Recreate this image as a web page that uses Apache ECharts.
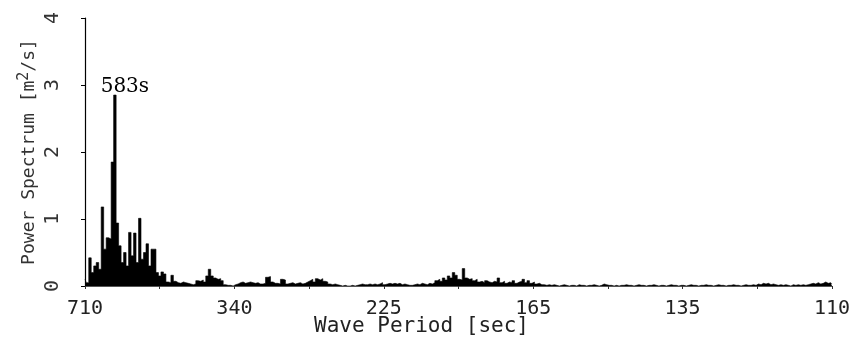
<!DOCTYPE html>
<html>
<head>
<meta charset="utf-8">
<script src="https://cdn.jsdelivr.net/npm/echarts@6/dist/echarts.min.js"></script>
<style>
  html, body { margin: 0; padding: 0; background: #fff; }
  #chart { width: 850px; height: 339px; }
</style>
</head>
<body>
<div id="chart"></div>
<script>
// period labels shown under the (linear frequency) axis, one every 60 bins
const periodLabels = ['710', '340', '225', '165', '135', '110'];
const yTicks = [0, 1, 2, 3, 4];
const peakBin = 12;
const peakLabel = '583s';

// power spectrum [m2/s], one value per frequency bin (301 bins, 710s -> 110s)
const spectrum = [
  0.10, 0.05, 0.42, 0.20, 0.30, 0.35, 0.25, 1.18, 0.55, 0.72,
  0.70, 1.85, 2.85, 0.94, 0.60, 0.35, 0.50, 0.30, 0.80, 0.45,
  0.79, 0.35, 1.01, 0.40, 0.50, 0.63, 0.30, 0.55, 0.55, 0.20,
  0.15, 0.21, 0.18, 0.06, 0.05, 0.16, 0.07, 0.05, 0.04, 0.06,
  0.05, 0.04, 0.03, 0.02, 0.03, 0.08, 0.07, 0.09, 0.06, 0.15,
  0.25, 0.15, 0.12, 0.10, 0.11, 0.08, 0.02, 0.01, 0.01, 0.00,
  0.02, 0.03, 0.05, 0.06, 0.04, 0.05, 0.06, 0.05, 0.04, 0.05,
  0.03, 0.03, 0.04, 0.13, 0.14, 0.06, 0.04, 0.04, 0.03, 0.10,
  0.09, 0.03, 0.04, 0.05, 0.03, 0.04, 0.05, 0.03, 0.04, 0.06,
  0.08, 0.10, 0.06, 0.11, 0.09, 0.11, 0.07, 0.06, 0.03, 0.02,
  0.03, 0.02, 0.01, 0.00, 0.01, 0.00, 0.00, 0.01, 0.00, 0.01,
  0.02, 0.03, 0.02, 0.02, 0.03, 0.02, 0.03, 0.02, 0.03, 0.05,
  0.02, 0.03, 0.04, 0.03, 0.04, 0.03, 0.04, 0.02, 0.03, 0.02,
  0.01, 0.01, 0.02, 0.03, 0.02, 0.04, 0.03, 0.02, 0.04, 0.03,
  0.05, 0.08, 0.10, 0.07, 0.12, 0.09, 0.15, 0.12, 0.20, 0.16,
  0.10, 0.09, 0.26, 0.12, 0.10, 0.11, 0.08, 0.10, 0.06, 0.07,
  0.05, 0.08, 0.06, 0.05, 0.07, 0.06, 0.12, 0.05, 0.07, 0.04,
  0.06, 0.05, 0.08, 0.04, 0.06, 0.07, 0.10, 0.05, 0.08, 0.04,
  0.06, 0.03, 0.04, 0.02, 0.02, 0.01, 0.02, 0.01, 0.02, 0.01,
  0.00, 0.01, 0.02, 0.01, 0.00, 0.01, 0.01, 0.00, 0.02, 0.01,
  0.01, 0.00, 0.01, 0.01, 0.02, 0.01, 0.00, 0.01, 0.03, 0.02,
  0.01, 0.01, 0.00, 0.01, 0.00, 0.01, 0.01, 0.02, 0.01, 0.01,
  0.00, 0.01, 0.02, 0.01, 0.01, 0.00, 0.01, 0.01, 0.02, 0.01,
  0.00, 0.01, 0.01, 0.00, 0.01, 0.02, 0.01, 0.01, 0.00, 0.01,
  0.01, 0.00, 0.01, 0.02, 0.01, 0.01, 0.00, 0.01, 0.01, 0.02,
  0.01, 0.01, 0.00, 0.01, 0.02, 0.01, 0.01, 0.00, 0.01, 0.01,
  0.02, 0.01, 0.01, 0.00, 0.01, 0.02, 0.01, 0.01, 0.02, 0.01,
  0.03, 0.02, 0.04, 0.03, 0.04, 0.02, 0.03, 0.02, 0.01, 0.02,
  0.01, 0.02, 0.01, 0.00, 0.02, 0.01, 0.02, 0.01, 0.02, 0.01,
  0.02, 0.03, 0.04, 0.03, 0.05, 0.03, 0.04, 0.06, 0.04, 0.05,
  0.03
];

const labelStep = (spectrum.length - 1) / (periodLabels.length - 1); // 60
const fontMono = '"DejaVu Sans Mono", monospace';

const chart = echarts.init(document.getElementById('chart'));

const option = {
  backgroundColor: '#fff',
  animation: false,
  grid: { left: 85, right: 18, top: 18, bottom: 53, outerBoundsMode: 'none' },
  xAxis: {
    type: 'value',
    min: 0,
    max: spectrum.length - 1,
    interval: labelStep / 2,
    name: 'Wave Period [sec]',
    nameLocation: 'middle',
    nameGap: 30,
    nameMoveOverlap: false,
    nameTextStyle: {
      color: '#222', fontFamily: fontMono, fontSize: 21,
      padding: [0, 74, 0, 0]
    },
    axisLine: { lineStyle: { color: '#555', width: 1 } },
    axisTick: { show: true, length: 3, lineStyle: { color: '#333' } },
    splitLine: { show: false },
    axisLabel: {
      color: '#222', fontFamily: fontMono, fontSize: 20, margin: 13,
      formatter: v => (v % labelStep === 0 ? periodLabels[v / labelStep] : '')
    }
  },
  yAxis: {
    type: 'value',
    min: yTicks[0],
    max: yTicks[yTicks.length - 1],
    interval: 1,
    name: 'Power Spectrum [m{sup|2}/s]',
    nameLocation: 'middle',
    nameGap: 44,
    nameMoveOverlap: false,
    nameTextStyle: {
      color: '#333', fontFamily: fontMono, fontSize: 18,
      rich: { sup: { fontFamily: fontMono, fontSize: 15, color: '#333', padding: [0, 0, 9, 0] } }
    },
    axisLine: { show: true, lineStyle: { color: '#000', width: 1.2 } },
    axisTick: { show: true, length: 4, lineStyle: { color: '#000' } },
    splitLine: { show: false },
    axisLabel: {
      color: '#333', fontFamily: fontMono, fontSize: 20, rotate: 90, margin: 22
    }
  },
  series: [{
    type: 'line',
    step: 'middle',
    symbol: 'none',
    data: spectrum.map((v, i) => [i, v]),
    lineStyle: { color: '#000', width: 0.6 },
    areaStyle: { color: '#000', opacity: 1 },
    markPoint: {
      symbol: 'circle',
      symbolSize: 0,
      data: [{ coord: [peakBin, spectrum[peakBin]] }],
      label: {
        show: true,
        formatter: peakLabel,
        position: 'top',
        offset: [10, 7],
        color: '#000',
        fontFamily: '"DejaVu Serif", serif',
        fontSize: 20
      }
    }
  }]
};

chart.setOption(option);
</script>
</body>
</html>
